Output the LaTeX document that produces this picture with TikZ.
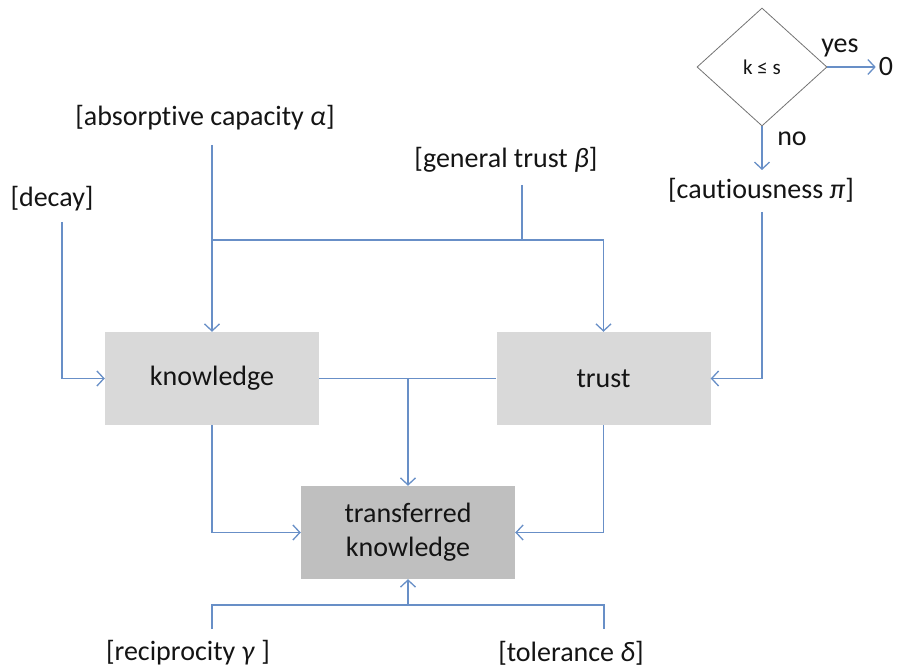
\documentclass[tikz,border=0pt]{standalone}
\usepackage{fontspec}
\setmainfont{Carlito}[Ligatures={NoCommon,NoRare,NoDiscretionary}]
\usetikzlibrary{arrows.meta,shapes.geometric}
\definecolor{linkblue}{RGB}{104,143,199}
\definecolor{boxlight}{RGB}{217,217,217}
\definecolor{boxdark}{RGB}{191,191,191}
\definecolor{ink}{RGB}{20,20,20}
\begin{document}
\begin{tikzpicture}[x=1pt,y=-1pt,
  every node/.style={font=\fontsize{28}{34}\selectfont, text=ink},
  link/.style={draw=linkblue, line width=1.3pt},
  arr/.style={link, -{Straight Barb[length=7pt,width=15pt,line width=1.3pt]}},
  block/.style={fill=boxlight, minimum width=214pt, minimum height=93pt, inner sep=0pt, align=center},
  lbl/.style={inner sep=0pt}]
\useasboundingbox (0,0) rectangle (898,671);

% main blocks
\node[block] (know) at (212,378.5) {knowledge};
\node[block] (trust) at (603.5,378.5) {trust};
\node[block, fill=boxdark] (tk) at (408,532.5) {transferred\\knowledge};

% parameter labels (the kern keeps "t" and "i" as separate glyphs)
\node[lbl] (abs) at (205,118) {[absorpt\kern0pt ive capacity \textit{α}]};
\node[lbl] (gen) at (506,160) {[general trust \textit{β}]};
\node[lbl] (dec) at (52,199) {[decay]};
\node[lbl] (caut) at (761,190) {[cautiousness \textit{π}]};
\node[lbl] (rec) at (188,653) {[reciprocity \textit{γ} ]};
\node[lbl] (tol) at (571,653) {[tolerance \textit{δ}]};

% decision
\node[diamond, draw=black!55, line width=0.8pt, minimum width=130pt, minimum height=118pt, inner sep=0pt,
      font=\fontsize{21}{24}\selectfont] (test) at (762,67) {k ≤ s};
\node[lbl] (zero) at (886,67) {0};
\node[lbl] (yes) at (840,48) {yes};
\node[lbl] (no) at (792,139) {no};

% connector ends
\coordinate (absEnd) at (212,145);
\coordinate (genEnd) at (522,185);
\coordinate (decEnd) at (62,222);
\coordinate (cautEnd) at (762,212);
\coordinate (cautIn) at (762,170);
\coordinate (join) at (212,240);
\coordinate (recEnd) at (212,629);
\coordinate (tolEnd) at (604,629);
\coordinate (base) at (408,605);

% connectors
\draw[arr] (test.east) -- ([xshift=-3pt]zero.west);
\draw[arr] (test.south) -- (cautIn);
\draw[arr] (absEnd) -- (know.north);
\draw[link] (genEnd) -- (genEnd |- join);
\draw[arr] (join) -| (trust.north);
\draw[arr] (decEnd) |- (know.west);
\draw[arr] (cautEnd) |- (trust.east);
\draw[link] (know.east) -- (trust.west);
\draw[arr] (tk.north |- know.east) -- (tk.north);
\draw[arr] (know.south) |- (tk.west);
\draw[arr] (trust.south) |- (tk.east);
\draw[link] (recEnd) |- (tolEnd |- base) -- (tolEnd);
\draw[arr] (base) -- (tk.south);
\end{tikzpicture}
\end{document}
